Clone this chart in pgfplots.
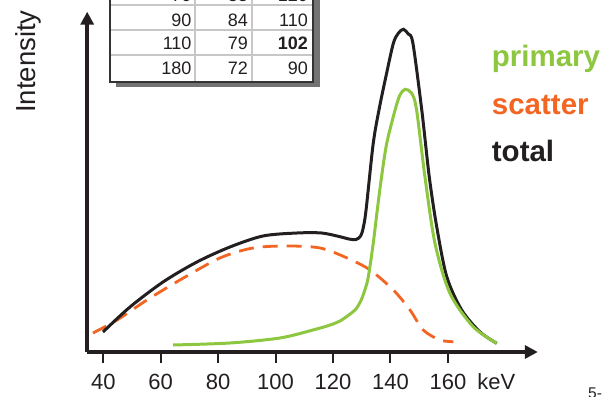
\documentclass[border=0pt]{standalone}
\usepackage{fontspec}
\setmainfont{Liberation Sans}
\usepackage{pgfplots}
\pgfplotsset{compat=1.18}
\usetikzlibrary{arrows.meta}
\definecolor{cprim}{RGB}{141,198,63}
\definecolor{cscat}{RGB}{242,101,34}
\definecolor{ctot}{RGB}{35,31,32}
\begin{document}
\begin{tikzpicture}
\begin{axis}[
  at={(87.2bp,45bp)}, anchor=south west,
  scale only axis, width=450.6bp, height=340.3bp,
  xmin=34.4, xmax=191.3, ymin=0, ymax=340.3,
  enlargelimits=false,
  axis lines=left,
  axis line style={line width=3.5bp, ctot, -{Triangle[length=13bp,width=13bp]}},
  xtick={40,60,...,160}, ytick=\empty,
  tick align=outside, major tick length=11bp,
  tick style={line width=2bp, ctot},
  xticklabel style={font=\fontsize{22bp}{26bp}\selectfont, text=ctot, inner sep=0pt, anchor=north, yshift=-10.5bp},
  /pgf/number format/assume math mode=true,
  ylabel={Intensity},
  ylabel style={at={(axis description cs:-0.1158,0.7023)}, anchor=base west, inner sep=0pt, font=\fontsize{27.5bp}{30bp}\selectfont, text=ctot},
  clip=false,
]
\addplot[cscat, line width=2.8bp, dash pattern=on 15bp off 9bp, smooth, tension=0.5] coordinates {
(36.4,19) (44.8,32) (55.2,52) (66.7,72) (80.6,94) (92.1,104) (104.0,106) (115.5,104) (124.9,94) (132.9,82) (141.0,62) (146.8,42) (151.4,22) (157.2,12) (161.9,10.3)};
\addplot[ctot, line width=3bp, smooth, tension=0.5] coordinates {
(39.9,20) (49.3,45) (60.8,70) (72.6,90) (84.1,105) (95.6,116) (107.4,119) (116,119) (122.4,115.3) (125.5,113) (128.0,112.5) (129.6,116) (130.5,124) (131.5,142) (134.0,208.7) (136.2,245) (138.4,275.3) (141.0,308.7) (142.8,319) (144.5,322.7) (146.2,318) (147.8,309) (150.9,242) (153.5,175.3) (156.1,125.3) (159.6,75.3) (164.8,42) (171.2,20) (177.0,8.7)};
\addplot[cprim, line width=3bp, smooth, tension=0.5] coordinates {
(64.3,7) (84.1,9) (101.5,14) (113.0,22) (119,27) (122.4,31) (125.5,37) (128,43) (129.8,52) (131.2,63) (132.3,75.3) (134.0,108.7) (135.4,142) (136.9,175.3) (138.7,208.7) (141.6,242) (143.3,257) (145.1,262.7) (147.4,258.7) (149.1,242) (152.0,175.3) (155.5,108.7) (160.7,58.7) (168.8,25.3) (177.0,8.7)};
\node[anchor=base, inner sep=0pt, font=\fontsize{22bp}{26bp}\selectfont, text=ctot] at (axis cs:176.9,0) [yshift=-37.5bp] {keV};
\end{axis}
% legend texts
\begin{scope}[every node/.style={anchor=base west, inner sep=0pt, font=\fontsize{29.5bp}{32bp}\selectfont\bfseries}]
\node[text=cprim] at (491.7bp,330.3bp) {primary};
\node[text=cscat] at (491.7bp,282bp) {scatter};
\node[text=ctot] at (491.7bp,235.3bp) {total};
\end{scope}
% table
\fill[black!55] (116bp,310bp) rectangle (320bp,420bp);
\fill[white] (110bp,315.3bp) rectangle (313bp,420bp);
\begin{scope}[line width=2bp, draw=black!22]
\draw (110bp,392bp) -- (313bp,392bp);
\draw (110bp,367bp) -- (313bp,367bp);
\draw (110bp,342bp) -- (313bp,342bp);
\draw (195bp,315.3bp) -- (195bp,420bp);
\draw (251.7bp,315.3bp) -- (251.7bp,420bp);
\end{scope}
\draw[black!80, line width=2bp] (110bp,315.3bp) rectangle (313bp,420bp);
\begin{scope}[every node/.style={anchor=base east, inner sep=0pt, font=\fontsize{18bp}{20bp}\selectfont, text=ctot}]
\node at (191.7bp,395.3bp) {70}; \node at (248bp,395.3bp) {88}; \node at (308bp,395.3bp) {120};
\node at (191.7bp,370.6bp) {90}; \node at (248bp,370.6bp) {84}; \node at (308bp,370.6bp) {110};
\node at (191.7bp,347.3bp) {110}; \node at (248bp,347.3bp) {79}; \node at (308bp,347.3bp) {\bfseries 102};
\node at (191.7bp,322.3bp) {180}; \node at (248bp,322.3bp) {72}; \node at (308bp,322.3bp) {90};
\end{scope}
\node[anchor=base west, inner sep=0pt, font=\fontsize{15.5bp}{17bp}\selectfont, text=ctot] at (588bp,-1.5bp) {5-};
\pgfresetboundingbox
\useasboundingbox (0,0) rectangle (604bp,397bp);
\end{tikzpicture}
\end{document}
